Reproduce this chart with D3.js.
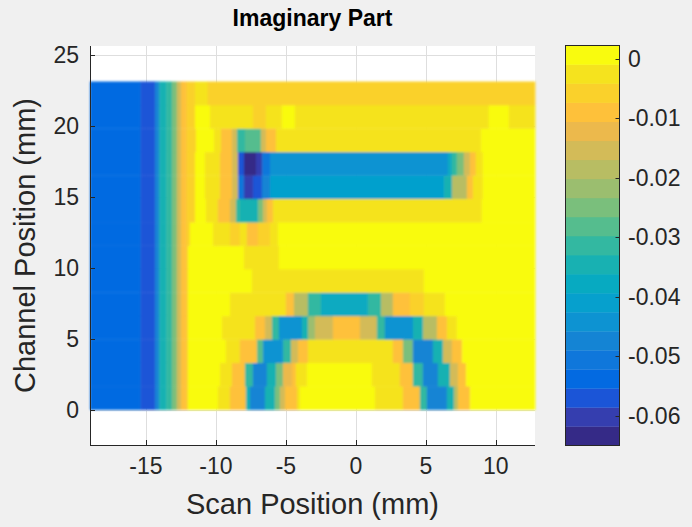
<!DOCTYPE html>
<html>
<head>
<meta charset="utf-8">
<script src="https://cdn.jsdelivr.net/npm/d3@7"></script>
<style>
  html, body { margin: 0; padding: 0; background: #f0f0f0; }
  svg { display: block; }
  text { font-family: "Liberation Sans", Arial, Helvetica, sans-serif; fill: #262626; }
</style>
</head>
<body>
<svg id="chart" width="692" height="527"></svg>
<script>
// ---- data ---------------------------------------------------------------
// Channel cell edges (mm), bottom to top
const channelEdges = [0, 1.65, 3.3, 4.95, 6.6, 8.25, 9.9, 11.55, 13.2, 14.85, 16.5, 18.15, 19.8, 21.45, 23.1];
// Scan extent (mm)
const scanExtent = [-19, 12.8];

// Imaginary part per channel: [scan start (mm), value] runs, channel 1 = bottom
const ch1 = [[-19,-0.054],[-15.4,-0.057],[-14.35,-0.047],[-14.05,-0.035],[-13.55,-0.031],[-13.15,-0.025],[-12.8,-0.015],[-12.5,-0.009],[-12.1,-0.006],
  [-12.0,0.001],[-9.86,-0.003],[-9.0,-0.009],[-7.86,-0.035],[-7.57,-0.047],[-6.5,-0.035],[-5.79,-0.025],[-5.43,-0.015],[-5.07,-0.009],[-4.21,-0.003],[-4.0,0.001],
  [1.36,-0.003],[3.36,-0.009],[4.57,-0.031],[5.07,-0.047],[6.5,-0.035],[7.0,-0.019],[7.29,-0.009],[8.14,0.001]];
const ch2 = [[-19,-0.054],[-15.4,-0.057],[-14.35,-0.047],[-14.05,-0.035],[-13.55,-0.031],[-13.15,-0.025],[-12.8,-0.015],[-12.5,-0.009],[-12.1,-0.006],
  [-12.0,0.001],[-9.71,-0.003],[-8.86,-0.009],[-7.93,-0.031],[-7.36,-0.047],[-6.36,-0.035],[-5.71,-0.025],[-5.21,-0.012],[-4.57,-0.009],[-4.29,-0.003],[-3.5,0.001],
  [1.14,-0.003],[3.14,-0.009],[4.07,-0.031],[4.79,-0.047],[5.86,-0.035],[6.71,-0.015],[7.29,-0.009],[7.86,0.001]];
const ch3 = [[-19,-0.054],[-15.4,-0.057],[-14.35,-0.047],[-14.05,-0.035],[-13.55,-0.031],[-13.15,-0.025],[-12.8,-0.015],[-12.5,-0.009],[-12.1,-0.006],
  [-12.0,0.001],[-9.29,-0.003],[-8.29,-0.009],[-7.07,-0.028],[-6.64,-0.044],[-5.21,-0.031],[-4.64,-0.015],[-4.14,-0.009],[-3.43,-0.003],
  [2.64,-0.009],[3.36,-0.025],[4.07,-0.047],[5.5,-0.035],[6.21,-0.015],[6.86,-0.009],[7.57,0.001]];
const ch4 = [[-19,-0.054],[-15.4,-0.057],[-14.35,-0.047],[-14.05,-0.035],[-13.55,-0.031],[-13.15,-0.025],[-12.8,-0.015],[-12.5,-0.009],[-12.1,-0.006],
  [-12.0,0.001],[-9.57,-0.003],[-7.21,-0.009],[-6.5,-0.015],[-6.0,-0.031],[-5.5,-0.044],[-3.86,-0.035],[-3.43,-0.022],[-2.93,-0.015],[-1.64,-0.009],
  [0.29,-0.015],[1.5,-0.031],[2.07,-0.044],[4.07,-0.035],[4.79,-0.019],[5.79,-0.009],[6.5,-0.003],[7.21,0.001]];
const ch5 = [[-19,-0.054],[-15.4,-0.057],[-14.35,-0.047],[-14.05,-0.035],[-13.55,-0.031],[-13.15,-0.025],[-12.8,-0.015],[-12.5,-0.009],[-12.1,-0.006],
  [-12.0,0.001],[-9.0,-0.003],[-5.0,-0.009],[-4.43,-0.019],[-3.43,-0.031],[-2.5,-0.038],[0.86,-0.031],[1.79,-0.019],[2.64,-0.009],[3.86,-0.006],[4.86,-0.003],[6.36,0.001]];
const ch6 = [[-19,-0.054],[-15.4,-0.057],[-14.35,-0.047],[-14.05,-0.035],[-13.55,-0.031],[-13.15,-0.025],[-12.8,-0.015],[-12.5,-0.009],[-12.1,-0.006],
  [-12.0,0.001],[-7.43,-0.003],[4.86,0.001]];
const ch7 = [[-19,-0.054],[-15.4,-0.057],[-14.35,-0.047],[-14.05,-0.035],[-13.55,-0.031],[-13.15,-0.025],[-12.8,-0.015],[-12.5,-0.009],[-12.1,-0.006],
  [-12.0,0.001],[-8.0,-0.003],[-5.5,0.001]];
const ch8 = [[-19,-0.054],[-15.4,-0.057],[-14.35,-0.047],[-14.05,-0.035],[-13.55,-0.031],[-13.15,-0.025],[-12.8,-0.015],[-12.5,-0.009],[-12.1,-0.006],
  [-11.86,0.001],[-10.21,-0.003],[-9.0,-0.006],[-8.29,-0.003],[-7.79,-0.009],[-7.0,-0.006],[-6.14,-0.003],[-5.57,0.001]];
const ch9 = [[-19,-0.054],[-15.4,-0.057],[-14.35,-0.047],[-14.05,-0.035],[-13.55,-0.031],[-13.15,-0.025],[-12.8,-0.015],[-12.5,-0.009],[-12.1,-0.006],
  [-11.5,0.001],[-10.71,-0.003],[-9.86,-0.009],[-9.0,-0.015],[-8.57,-0.031],[-8.29,-0.035],[-7.0,-0.025],[-6.64,-0.015],[-6.36,-0.009],[-5.93,-0.003],[9.0,0.001]];
const ch10 = [[-19,-0.054],[-15.4,-0.057],[-14.35,-0.047],[-14.05,-0.035],[-13.55,-0.031],[-13.15,-0.025],[-12.8,-0.015],[-12.5,-0.009],[-12.1,-0.006],
  [-11.5,0.001],[-10.79,-0.003],[-9.71,-0.009],[-8.86,-0.015],[-8.43,-0.051],[-8.0,-0.060],[-7.36,-0.057],[-6.71,-0.047],[-6.14,-0.041],
  [6.29,-0.035],[6.86,-0.019],[7.93,-0.009],[8.36,-0.003],[9.07,0.001]];
const ch11 = [[-19,-0.054],[-15.4,-0.057],[-14.35,-0.047],[-14.05,-0.035],[-13.55,-0.031],[-13.15,-0.025],[-12.8,-0.015],[-12.5,-0.009],[-12.1,-0.006],
  [-11.5,0.001],[-10.79,-0.003],[-9.71,-0.009],[-8.86,-0.015],[-8.43,-0.057],[-8.0,-0.063],[-7.14,-0.060],[-6.71,-0.051],[-6.14,-0.044],
  [6.57,-0.038],[6.86,-0.031],[7.21,-0.025],[7.71,-0.015],[8.14,-0.009],[8.57,-0.003],[9.07,0.001]];
const ch12 = [[-19,-0.054],[-15.4,-0.057],[-14.35,-0.047],[-14.05,-0.035],[-13.55,-0.031],[-13.15,-0.025],[-12.8,-0.015],[-12.5,-0.009],[-12.1,-0.006],
  [-11.43,0.001],[-10.14,-0.003],[-9.64,-0.009],[-8.86,-0.015],[-8.5,-0.031],[-7.93,-0.028],[-6.79,-0.015],[-6.43,-0.009],[-5.71,-0.003],[8.93,0.001]];
const ch13 = [[-19,-0.054],[-15.4,-0.057],[-14.35,-0.047],[-14.05,-0.035],[-13.55,-0.031],[-13.15,-0.025],[-12.8,-0.015],[-12.5,-0.009],[-12.1,-0.006],
  [-11.5,0.001],[-10.43,-0.003],[-7.36,-0.006],[-6.43,-0.003],[-5.29,0.001],[-4.36,-0.003],[9.5,0.001],[10.93,-0.003]];
const ch14 = [[-19,-0.054],[-15.4,-0.057],[-14.35,-0.047],[-14.05,-0.035],[-13.55,-0.031],[-13.15,-0.025],[-12.8,-0.015],[-12.5,-0.009],[-12.1,-0.006],
  [-11.5,-0.003],[-10.6,-0.006]];
const channelRows = [ch1, ch2, ch3, ch4, ch5, ch6, ch7, ch8, ch9, ch10, ch11, ch12, ch13, ch14];

// Colour limits and colormap (parula, 21 levels)
const colorLimits = [-0.065, 0.0022];
const parula21 = ["#352a87","#353eaf","#1b55d7","#036ae1","#0f77db","#1484d4","#0d93d2","#06a0cd","#07aac1","#18b1b2",
  "#33b8a1","#55bd8e","#7abf7c","#9bbe6f","#b8bd63","#d3bb58","#ecb94c","#fec13a","#fad12b","#f5e31e","#f9fb0e"];

// Ticks
const scanTicks = [-15, -10, -5, 0, 5, 10];
const channelTicks = [0, 5, 10, 15, 20, 25];
const colorTicks = [0, -0.01, -0.02, -0.03, -0.04, -0.05, -0.06];
const colorTickLabels = ["0", "-0.01", "-0.02", "-0.03", "-0.04", "-0.05", "-0.06"];

// ---- layout ------------------------------------------------------------
const svg = d3.select("#chart");
const plot = { left: 90, right: 535, top: 46, bottom: 445 };
const cbar = { left: 565.5, right: 619.5, top: 45.5, bottom: 445.5 };
const ink = "#262626";

const x = d3.scaleLinear().domain([-19, 12.8]).range([plot.left, plot.right]);
const y = d3.scaleLinear().domain([-2.5, 25.6]).range([plot.bottom, plot.top]);
const color = d3.scaleQuantize().domain(colorLimits).range(parula21);
const cb = d3.scaleLinear().domain(colorLimits).range([cbar.bottom, cbar.top]);

// axes background
svg.append("rect")
  .attr("x", plot.left).attr("y", plot.top)
  .attr("width", plot.right - plot.left).attr("height", plot.bottom - plot.top)
  .attr("fill", "#ffffff");

// grid
const grid = svg.append("g").attr("stroke", "#dedede").attr("stroke-width", 1);
grid.selectAll("line.gx").data(scanTicks).join("line")
  .attr("x1", d => Math.round(x(d)) + 0.5).attr("x2", d => Math.round(x(d)) + 0.5)
  .attr("y1", plot.top).attr("y2", plot.bottom);
grid.selectAll("line.gy").data(channelTicks).join("line")
  .attr("y1", d => Math.round(y(d)) + 0.5).attr("y2", d => Math.round(y(d)) + 0.5)
  .attr("x1", plot.left).attr("x2", plot.right);

// heatmap
const defs = svg.append("defs");
defs.append("filter").attr("id", "soft")
  .attr("x", "-2%").attr("y", "-2%").attr("width", "104%").attr("height", "104%")
  .append("feGaussianBlur").attr("stdDeviation", 0.8);

const heat = svg.append("g").attr("filter", "url(#soft)");
channelRows.forEach((runs, r) => {
  const y0 = y(channelEdges[r + 1]);
  const y1 = y(channelEdges[r]);
  runs.forEach((run, i) => {
    const xs = run[0];
    const xe = i + 1 < runs.length ? runs[i + 1][0] : scanExtent[1];
    heat.append("rect")
      .attr("x", x(xs)).attr("y", y0)
      .attr("width", x(xe) - x(xs) + 0.4).attr("height", y1 - y0 + 0.4)
      .attr("fill", color(run[1]));
  });
});

// axis lines and ticks (ticks point inward)
const axes = svg.append("g").attr("stroke", ink).attr("stroke-width", 1).attr("fill", "none");
axes.append("line").attr("x1", plot.left + 0.5).attr("x2", plot.left + 0.5)
  .attr("y1", plot.top).attr("y2", plot.bottom + 0.5);
axes.append("line").attr("x1", plot.left).attr("x2", plot.right)
  .attr("y1", plot.bottom + 0.5).attr("y2", plot.bottom + 0.5);
axes.selectAll("line.tx").data(scanTicks).join("line")
  .attr("x1", d => Math.round(x(d)) + 0.5).attr("x2", d => Math.round(x(d)) + 0.5)
  .attr("y1", plot.bottom).attr("y2", plot.bottom - 5);
axes.selectAll("line.ty").data(channelTicks).join("line")
  .attr("y1", d => Math.round(y(d)) + 0.5).attr("y2", d => Math.round(y(d)) + 0.5)
  .attr("x1", plot.left).attr("x2", plot.left + 5);

// tick labels
const tickFont = 23;
svg.append("g").selectAll("text").data(scanTicks).join("text")
  .attr("x", d => x(d)).attr("y", 474)
  .attr("text-anchor", "middle").attr("font-size", tickFont)
  .text(d => String(d));
svg.append("g").selectAll("text").data(channelTicks).join("text")
  .attr("x", 79).attr("y", d => y(d)).attr("dy", "0.36em")
  .attr("text-anchor", "end").attr("font-size", tickFont)
  .text(d => String(d));

// axis labels and title
svg.append("text").attr("x", (plot.left + plot.right) / 2).attr("y", 514)
  .attr("text-anchor", "middle").attr("font-size", 29).text("Scan Position (mm)");
svg.append("text")
  .attr("transform", `translate(35,${(plot.top + plot.bottom) / 2}) rotate(-90)`)
  .attr("text-anchor", "middle").attr("font-size", 29).text("Channel Position (mm)");
svg.append("text").attr("x", (plot.left + plot.right) / 2).attr("y", 26)
  .attr("text-anchor", "middle").attr("font-size", 23).attr("font-weight", "bold")
  .style("fill", "#000").text("Imaginary Part");

// colorbar
const step = (colorLimits[1] - colorLimits[0]) / parula21.length;
svg.append("g").selectAll("rect").data(parula21).join("rect")
  .attr("x", cbar.left).attr("width", cbar.right - cbar.left)
  .attr("y", (d, i) => cb(colorLimits[0] + step * (i + 1)))
  .attr("height", (d, i) => cb(colorLimits[0] + step * i) - cb(colorLimits[0] + step * (i + 1)) + 0.3)
  .attr("fill", d => d);
svg.append("rect").attr("x", cbar.left).attr("y", cbar.top)
  .attr("width", cbar.right - cbar.left).attr("height", cbar.bottom - cbar.top)
  .attr("fill", "none").attr("stroke", ink).attr("stroke-width", 1);
svg.append("g").attr("stroke", ink).selectAll("line").data(colorTicks).join("line")
  .attr("x1", cbar.right).attr("x2", cbar.right - 4)
  .attr("y1", d => Math.round(cb(d)) + 0.5).attr("y2", d => Math.round(cb(d)) + 0.5);
svg.append("g").selectAll("text").data(colorTicks).join("text")
  .attr("x", 628).attr("y", d => cb(d)).attr("dy", "0.36em")
  .attr("font-size", tickFont)
  .text((d, i) => colorTickLabels[i]);
</script>
</body>
</html>
